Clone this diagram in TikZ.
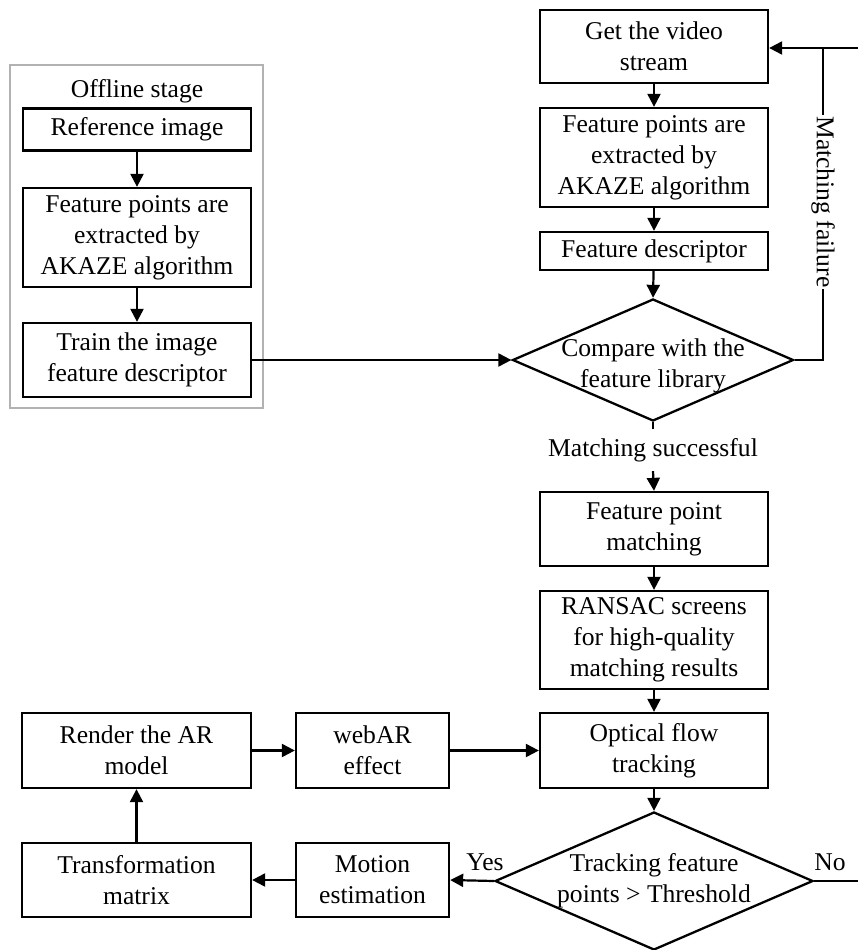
\documentclass[tikz,border=0pt]{standalone}
\usepackage{fontspec}
\setmainfont{Liberation Serif}
\usetikzlibrary{shapes.geometric,arrows.meta}
\begin{document}
\begin{tikzpicture}[x=1pt,y=-1pt,
  every node/.style={font=\fontsize{25.6}{31}\selectfont},
  box/.style={draw,line width=2.3pt,rectangle,inner sep=0pt,align=center,minimum width=228pt},
  dia/.style={draw,line width=2.3pt,diamond,inner sep=0pt,aspect=2.3},
  lbl/.style={inner sep=1pt},
  arr/.style={line width=2.2pt,-{Triangle[length=13pt,width=13pt]}},
  ln/.style={line width=2.2pt}]
\useasboundingbox (0,0) rectangle (858,950);
% offline stage frame
\node[draw=black!30,line width=1.8pt,minimum width=253pt,minimum height=343pt,inner sep=0pt] (frame) at (136.5,236.5) {};
\node[lbl] (offtitle) at (137,91) {Offline stage};
\node[box,minimum height=42pt] (ref) at (137,129.5) {Reference image};
\node[box,minimum height=99pt] (offfeat) at (137,237.5) {Feature points are\\extracted by\\AKAZE algorithm};
\node[box,minimum height=74pt] (train) at (137,360) {Train the image\\feature descriptor};
% online column
\node[box,minimum height=73pt] (video) at (654,46.5) {Get the video\\stream};
\node[box,minimum height=99pt] (feat) at (654,157.5) {Feature points are\\extracted by\\AKAZE algorithm};
\node[box,minimum height=38pt] (desc) at (654,251) {Feature descriptor};
\node[dia,minimum width=281pt,minimum height=122pt,label={[align=center,yshift=-6pt]center:Compare with the\\feature library}] (compare) at (653,360) {};
\node[fill=white,inner sep=0pt,minimum width=250pt,minimum height=42pt] (msucc) at (653,450) {Matching successful};
\node[box,minimum height=74pt] (fpm) at (654,529) {Feature point\\matching};
\node[box,minimum height=98pt] (ransac) at (654,640) {RANSAC screens\\for high-quality\\matching results};
\node[box,minimum height=75pt] (optical) at (654,750.5) {Optical flow\\tracking};
\node[dia,minimum width=318pt,minimum height=138pt,label={[align=center]center:Tracking feature\\points > Threshold}] (track) at (654,881) {};
% left bottom
\node[box,minimum height=75pt,minimum width=229pt] (render) at (136.5,750.5) {Render the AR\\model};
\node[box,minimum height=75pt,minimum width=153pt] (webar) at (372.5,750.5) {webAR\\effect};
\node[box,minimum height=74pt,minimum width=229pt] (transform) at (136.5,880) {Transformation\\matrix};
\node[box,minimum height=74pt,minimum width=153pt] (motion) at (372.5,880) {Motion\\estimation};
% coordinates
\coordinate (fbR) at (823,360);
\coordinate (fbT) at (823,48);
\coordinate (fbE) at (858,48);
\coordinate (noE) at (858,881);
% connectors
\draw[arr] (ref) -- (offfeat);
\draw[arr] (offfeat) -- (train);
\draw[arr] (train.east) -- (compare.west);
\draw[arr] (video) -- (feat);
\draw[arr] (feat) -- (desc);
\draw[arr] (desc) -- (compare.north);
\draw[ln] (compare.south) -- (msucc.north);
\draw[arr] (msucc.south) -- (fpm.north);
\draw[arr] (fpm) -- (ransac);
\draw[arr] (ransac) -- (optical);
\draw[arr] (optical) -- (track.north);
\draw[arr] (track.west) -- (motion.east);
\draw[arr] (motion.west) -- (transform.east);
\draw[arr] (transform.north) -- (render.south);
\draw[arr] (render.east) -- (webar.west);
\draw[arr] (webar.east) -- (optical.west);
\draw[ln] (track.east) -- (noE);
\draw[ln] (compare.east) -- (fbR) -- (fbT);
\draw[arr] (fbE) -- (video.east |- fbE);
\node[lbl] (yes) at (485,862) {Yes};
\node[lbl] (no) at (830,862) {No};
\node[fill=white,inner sep=1pt,rotate=-90] (mfail) at (823,202) {Matching failure};
\end{tikzpicture}
\end{document}
